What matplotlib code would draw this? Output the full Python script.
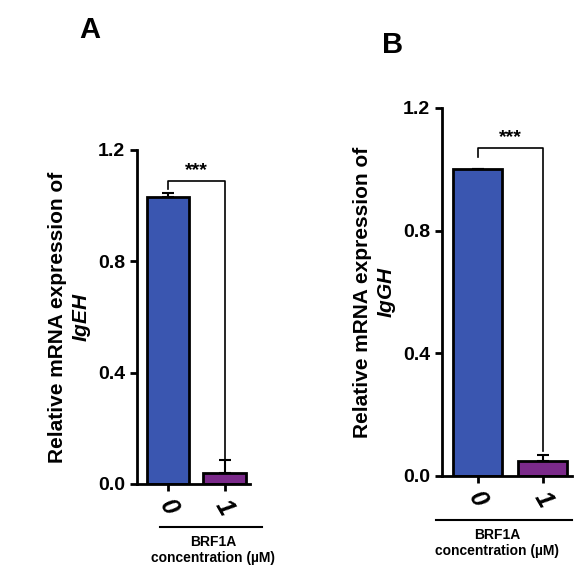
import matplotlib
matplotlib.use("Agg")
import matplotlib.pyplot as plt
from matplotlib.lines import Line2D

plt.rcParams['font.family'] = ['Liberation Sans', 'DejaVu Sans']
plt.rcParams['mathtext.fontset'] = 'custom'
plt.rcParams['mathtext.it'] = 'Liberation Sans:italic:bold'

categories = ["0", "1"]
vals_a = [1.03, 0.04]
err_a = [0.015, 0.045]
vals_b = [1.0, 0.05]
err_b = [0.0, 0.02]
colors = ["#3a56b0", "#7b2a8a"]

fig = plt.figure(figsize=(5.77, 5.81), dpi=100)
W, H = 577, 581

def panel(left, right, bottom, top, vals, errs, ylabel_gene, bracket_y, drop_y, letter, lpos):
    ax = fig.add_axes([left/W, 1-bottom/H, (right-left)/W, (bottom-top)/H])
    x = [0, 1]
    ax.bar(x, vals, width=0.75, color=colors, edgecolor="black", linewidth=2, zorder=2)
    ax.errorbar(x, vals, yerr=[[0, 0], errs], fmt="none", ecolor="black", capsize=4, elinewidth=1.5, capthick=1.5, zorder=1)
    ax.set_ylim(0, 1.2)
    ax.set_xlim(-0.55, 1.45)
    ax.set_yticks([0, 0.4, 0.8, 1.2])
    ax.set_yticklabels(["0.0", "0.4", "0.8", "1.2"], fontsize=14, fontweight="bold")
    ax.set_xticks(x)
    ax.set_xticklabels(categories, fontsize=18, fontweight="bold", style="italic", rotation=-60)
    for s in ["top", "right"]:
        ax.spines[s].set_visible(False)
    for s in ["left", "bottom"]:
        ax.spines[s].set_linewidth(2)
    ax.tick_params(width=2, length=5)
    ax.plot([0, 0, 1, 1], [bracket_y-0.03, bracket_y, bracket_y, drop_y], color="black", lw=1.2, clip_on=False)
    ax.text(0.5, bracket_y+0.005, "***", ha="center", va="bottom", fontsize=14, fontweight="bold")
    ax.set_ylabel("Relative mRNA expression of\n" + r"$\it{" + ylabel_gene + "}$", fontsize=15, fontweight="bold")
    fig.text(lpos[0]/W, 1-lpos[1]/H, letter, fontsize=21, fontweight="bold", ha="center", va="center")
    return ax

panel(137, 250, 484, 150, vals_a, err_a, "IgEH", 1.09, 0.09, "A", (90, 30))
panel(442, 572, 476, 108, vals_b, err_b, "IgGH", 1.07, 0.08, "B", (393, 45))

for (x0, x1, y, cx) in [(160, 262, 527, 213), (436, 572, 520, 497)]:
    fig.add_artist(Line2D([x0/W, x1/W], [1-y/H, 1-y/H], color="black", lw=1.5))
    fig.text(cx/W, 1-(y+8)/H, "BRF1A\nconcentration (µM)", ha="center", va="top", fontsize=10, fontweight="bold")

fig.savefig("out.png", dpi=100, facecolor="white")
